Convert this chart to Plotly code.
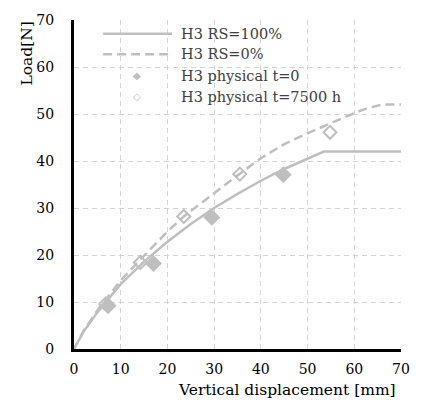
import plotly.graph_objects as go

# --- data ---
rs100_x = [0, 2, 5, 10, 15, 20, 25, 30, 35, 40, 45, 50, 53.5, 70]
rs100_y = [0, 3.6, 7.8, 13.8, 18.6, 22.8, 26.6, 30.0, 33.0, 35.8, 38.3, 40.5, 42, 42]

rs0_x = [0, 2, 5, 10, 14, 20, 23.5, 30, 35.5, 40, 45, 50, 55, 60, 63, 66, 70]
rs0_y = [0, 3.8, 8.2, 14.6, 18.8, 25.0, 28.2, 33.2, 37.3, 40.6, 43.6, 45.9, 48.1, 50.2, 51.3, 52, 52]

phys0_x = [7.3, 17.0, 29.5, 44.8]
phys0_y = [9.2, 18.2, 28.0, 37.1]

phys7500_x = [6.8, 14.2, 23.5, 35.5, 54.8]
phys7500_y = [9.6, 18.4, 28.2, 37.2, 46.1]

names = ["H3 RS=100%", "H3 RS=0%", "H3 physical t=0", "H3 physical t=7500 h"]
x_ticks = [0, 10, 20, 30, 40, 50, 60, 70]
y_ticks = [0, 10, 20, 30, 40, 50, 60, 70]

GRAY = "#BFBFBF"
FONT = "DejaVu Serif"

fig = go.Figure()
fig.add_trace(go.Scatter(x=rs100_x, y=rs100_y, mode="lines", name=names[0],
                         line=dict(color=GRAY, width=2.5), showlegend=False))
fig.add_trace(go.Scatter(x=rs0_x, y=rs0_y, mode="lines", name=names[1],
                         line=dict(color=GRAY, width=2.5, dash="9px,5px"), showlegend=False))
fig.add_trace(go.Scatter(x=phys0_x, y=phys0_y, mode="markers", name=names[2],
                         marker=dict(symbol="diamond", size=13, color=GRAY), showlegend=False))
fig.add_trace(go.Scatter(x=phys7500_x, y=phys7500_y, mode="markers", name=names[3],
                         marker=dict(symbol="diamond-open", size=10, color=GRAY,
                                     line=dict(width=2, color=GRAY)), showlegend=False))

axis_common = dict(
    range=[0, 70], showgrid=True, gridcolor="#D4D4D4", griddash="5px,4px", gridwidth=1,
    zeroline=False, showline=True, linecolor="black", linewidth=3,
    tickfont=dict(family=FONT, size=14, color="black"), ticks="",
)
fig.update_xaxes(tickvals=x_ticks, ticklabelstandoff=5, **axis_common)
fig.update_yaxes(tickvals=y_ticks, ticklabelstandoff=14, **axis_common)

# manual legend (matching the original layout)
leg_y = [0.958, 0.896, 0.830, 0.767]
shapes = [
    dict(type="line", xref="paper", yref="paper", x0=0.089, x1=0.300, y0=leg_y[0], y1=leg_y[0],
         line=dict(color=GRAY, width=2.5)),
    dict(type="line", xref="paper", yref="paper", x0=0.089, x1=0.300, y0=leg_y[1], y1=leg_y[1],
         line=dict(color=GRAY, width=2.5, dash="9px,5px")),
]
annotations = []
for i, n in enumerate(names):
    annotations.append(dict(text=n, xref="paper", yref="paper", x=0.322, y=leg_y[i],
                            xanchor="left", yanchor="middle", showarrow=False,
                            font=dict(family=FONT, size=14.5, color="#404040")))
annotations.append(dict(text="◆", xref="paper", yref="paper", x=0.192, y=leg_y[2],
                        xanchor="center", yanchor="middle", showarrow=False,
                        font=dict(family=FONT, size=10, color=GRAY)))
annotations.append(dict(text="◇", xref="paper", yref="paper", x=0.192, y=leg_y[3],
                        xanchor="center", yanchor="middle", showarrow=False,
                        font=dict(family=FONT, size=10, color=GRAY)))
annotations.append(dict(text="Vertical displacement [mm]", xref="paper", yref="paper",
                        x=0.992, y=-0.09, xanchor="right", yanchor="top", showarrow=False,
                        font=dict(family=FONT, size=15.5, color="black")))
annotations.append(dict(text="Load[N]", xref="paper", yref="paper", textangle=-90,
                        x=-0.145, y=1.0, xanchor="center", yanchor="top", showarrow=False,
                        font=dict(family=FONT, size=15.5, color="black")))

fig.update_layout(
    width=422, height=407,
    margin=dict(l=74, r=21, t=14, b=58),
    paper_bgcolor="white", plot_bgcolor="white",
    showlegend=False, shapes=shapes, annotations=annotations,
)

fig.write_html("out.html", config={"displayModeBar": False},
               post_script="document.body.style.margin='0';")
